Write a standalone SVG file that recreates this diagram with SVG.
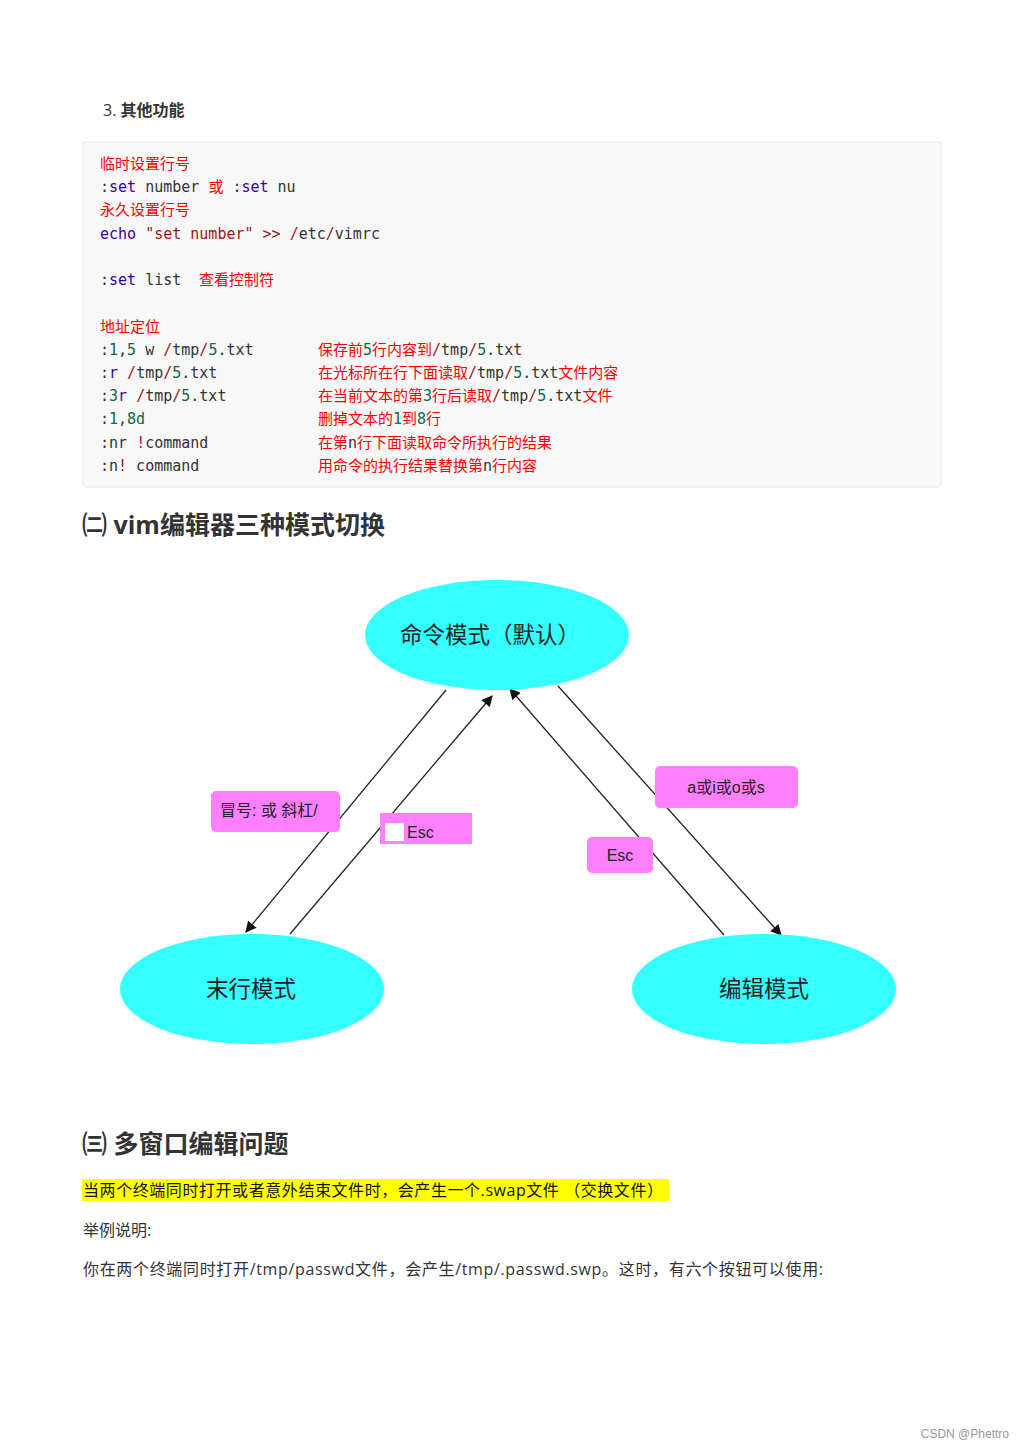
<svg xmlns="http://www.w3.org/2000/svg" width="1024" height="1448" viewBox="0 0 1024 1448">
<defs>
<style>
.body{font-family:"Open Sans","Noto Sans CJK SC",sans-serif;fill:#333}
.h{font-family:"Open Sans","Noto Sans CJK SC",sans-serif;font-weight:bold;fill:#333}
.code{font-family:"DejaVu Sans Mono","Noto Sans CJK SC",monospace;font-size:15px;fill:#333}
.r{fill:#ff0000}.k{fill:#3300aa}.n{fill:#116644}.s{fill:#aa1111}.o{fill:#981a1a}
.node{fill:#33ffff}
.nt{font-family:"Noto Sans CJK SC","Noto Sans",sans-serif;font-size:22.5px;fill:#222;text-anchor:middle}
.lab{fill:#ff80ff}
.lt{font-family:"Liberation Sans","Noto Sans CJK SC",sans-serif;font-size:16px;fill:#222}
.edge{stroke:#222;stroke-width:1.3;fill:none}
</style>
<marker id="arr" viewBox="0 0 10 10" refX="9" refY="5" markerWidth="13" markerHeight="11" markerUnits="userSpaceOnUse" orient="auto">
<path d="M0,0 L10,5 L0,10 z" fill="#111"/>
</marker>
</defs>
<rect width="1024" height="1448" fill="#fff"/>

<text class="body" x="103" y="116" font-size="16">3. <tspan class="h">其他功能</tspan></text>

<rect x="83" y="142" width="858" height="345" rx="3" fill="#f8f8f8" stroke="#e6e6e6"/>
<g class="code">
<text x="100" y="169" class="r">临时设置行号</text>
<text x="100" y="192">:<tspan class="k">set</tspan> number <tspan class="r">或</tspan> :<tspan class="k">set</tspan> nu</text>
<text x="100" y="215" class="r">永久设置行号</text>
<text x="100" y="239"><tspan class="k">echo</tspan> <tspan class="s">"set number"</tspan> <tspan class="o">&gt;&gt;</tspan> <tspan class="o">/</tspan>etc<tspan class="o">/</tspan>vimrc</text>
<text x="100" y="285">:<tspan class="k">set</tspan> list<tspan class="r" x="199">查看控制符</tspan></text>
<text x="100" y="332" class="r">地址定位</text>
<text x="100" y="355">:<tspan class="n">1</tspan>,<tspan class="n">5</tspan> w <tspan class="o">/</tspan>tmp<tspan class="o">/</tspan><tspan class="n">5</tspan>.txt</text>
<text x="100" y="378">:<tspan class="k">r</tspan> <tspan class="o">/</tspan>tmp<tspan class="o">/</tspan><tspan class="n">5</tspan>.txt</text>
<text x="100" y="401">:<tspan class="n">3</tspan><tspan class="k">r</tspan> <tspan class="o">/</tspan>tmp<tspan class="o">/</tspan><tspan class="n">5</tspan>.txt</text>
<text x="100" y="424">:<tspan class="n">1</tspan>,<tspan class="n">8d</tspan></text>
<text x="100" y="448">:nr <tspan class="o">!</tspan>command</text>
<text x="100" y="471">:n<tspan class="o">!</tspan> command</text>
<text x="318" y="355"><tspan class="r">保存前</tspan><tspan class="n">5</tspan><tspan class="r">行内容到</tspan><tspan class="o">/</tspan>tmp<tspan class="o">/</tspan><tspan class="n">5</tspan>.txt</text>
<text x="318" y="378"><tspan class="r">在光标所在行下面读取</tspan><tspan class="o">/</tspan>tmp<tspan class="o">/</tspan><tspan class="n">5</tspan>.txt<tspan class="r">文件内容</tspan></text>
<text x="318" y="401"><tspan class="r">在当前文本的第</tspan><tspan class="n">3</tspan><tspan class="r">行后读取</tspan><tspan class="o">/</tspan>tmp<tspan class="o">/</tspan><tspan class="n">5</tspan>.txt<tspan class="r">文件</tspan></text>
<text x="318" y="424"><tspan class="r">删掉文本的</tspan><tspan class="n">1</tspan><tspan class="r">到</tspan><tspan class="n">8</tspan><tspan class="r">行</tspan></text>
<text x="318" y="448"><tspan class="r">在第</tspan>n<tspan class="r">行下面读取命令所执行的结果</tspan></text>
<text x="318" y="471"><tspan class="r">用命令的执行结果替换第</tspan>n<tspan class="r">行内容</tspan></text>
</g>

<text class="h" x="82" y="534" font-size="25">㈡ vim编辑器三种模式切换</text>

<g id="connectors">
<line class="edge" x1="446" y1="690" x2="246" y2="932" marker-end="url(#arr)"/>
<line class="edge" x1="290" y1="934" x2="492" y2="696" marker-end="url(#arr)"/>
<line class="edge" x1="724" y1="935" x2="510" y2="689" marker-end="url(#arr)"/>
<line class="edge" x1="558" y1="686" x2="781" y2="935" marker-end="url(#arr)"/>
</g>

<g id="node-cmd"><ellipse class="node" cx="497" cy="635" rx="132" ry="55"/><text class="nt" x="490" y="643">命令模式（默认）</text></g>
<g id="node-last"><ellipse class="node" cx="252" cy="989" rx="132" ry="55"/><text class="nt" x="251" y="997">末行模式</text></g>
<g id="node-edit"><ellipse class="node" cx="764" cy="989" rx="132" ry="55"/><text class="nt" x="764" y="997">编辑模式</text></g>

<g id="label-colon"><rect class="lab" x="211" y="791" width="129" height="41" rx="5"/><text class="lt" x="220" y="816">冒号: 或 斜杠/</text></g>
<g id="label-esc1"><rect class="lab" x="380" y="813" width="92" height="31"/><rect x="385" y="823" width="19" height="18" fill="#fff"/><text class="lt" x="407" y="838">Esc</text></g>
<g id="label-aios"><rect class="lab" x="655" y="766" width="143" height="42" rx="5"/><text class="lt" x="726" y="793" text-anchor="middle">a或i或o或s</text></g>
<g id="label-esc2"><rect class="lab" x="587" y="837" width="66" height="36" rx="5"/><text class="lt" x="620" y="861" text-anchor="middle">Esc</text></g>

<text class="h" x="82" y="1153" font-size="25">㈢ 多窗口编辑问题</text>
<rect x="82" y="1179" width="587" height="22" fill="#ffff00"/>
<text class="body" x="83" y="1196" font-size="16" style="fill:#111" textLength="580" lengthAdjust="spacing">当两个终端同时打开或者意外结束文件时，会产生一个.swap文件 （交换文件）</text>
<text class="body" x="83" y="1236" font-size="16">举例说明:</text>
<text class="body" x="83" y="1275" font-size="16" textLength="740" lengthAdjust="spacing">你在两个终端同时打开/tmp/passwd文件，会产生/tmp/.passwd.swp。这时，有六个按钮可以使用:</text>

<text x="1009" y="1438" font-family="Liberation Sans,sans-serif" font-size="12" fill="#999" text-anchor="end">CSDN @Phettro</text>
</svg>
